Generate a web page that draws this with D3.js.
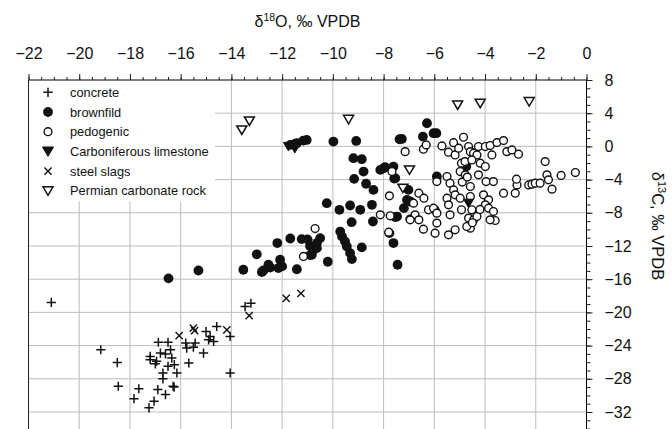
<!DOCTYPE html>
<html><head><meta charset="utf-8">
<script src="https://cdn.jsdelivr.net/npm/d3@7"></script>
<style>body{margin:0;background:#fff}svg{display:block}text{font-family:"Liberation Sans",Arial,sans-serif}</style>
</head><body><svg id="c" width="672" height="429"></svg>
<script>
const xTicks = [-22,-20,-18,-16,-14,-12,-10,-8,-6,-4,-2,0];
const yTicks = [8,4,0,-4,-8,-12,-16,-20,-24,-28,-32];
const seriesNames = ["concrete","brownfild","pedogenic","Carboniferous limestone","steel slags","Permian carbonate rock"];

const concrete = [[-21.1,-18.8],[-19.15,-24.5],[-18.5,-26.05],[-18.46,-28.9],[-17.65,-29.2],[-17.84,-30.4],[-17.25,-31.5],[-17.05,-30.7],[-16.9,-29.3],[-16.6,-29.9],[-16.26,-29.0],[-16.7,-28.0],[-16.7,-27.3],[-16.88,-23.6],[-16.5,-23.6],[-16.8,-24.9],[-17.2,-25.3],[-17.2,-25.7],[-16.95,-25.9],[-16.5,-26.5],[-16.35,-25.5],[-16.25,-26.3],[-16.15,-27.3],[-16.4,-24.5],[-15.8,-23.7],[-15.76,-24.3],[-15.43,-23.7],[-15.5,-24.2],[-15.1,-24.9],[-15.68,-26.1],[-14.84,-22.9],[-14.7,-23.5],[-14.58,-21.7],[-14.05,-22.9],[-14.05,-27.3],[-13.46,-19.3],[-13.23,-18.9],[-16.3,-28.9],[-17.0,-26.2],[-16.6,-25.0],[-15.0,-22.3],[-14.9,-23.3]];
const brownfild = [[-16.48,-15.9],[-15.3,-14.95],[-13.53,-14.86],[-13.0,-13.0],[-12.74,-14.95],[-12.47,-14.6],[-12.15,-14.66],[-12.08,-13.66],[-12.0,-14.46],[-12.19,-11.65],[-11.68,-11.1],[-11.42,-14.8],[-11.23,-11.17],[-11.0,-11.2],[-10.9,-13.1],[-10.77,-12.45],[-10.63,-11.65],[-10.63,-12.26],[-10.5,-11.05],[-10.24,-6.84],[-10.2,-13.9],[-11.68,0.18],[-11.5,0.3],[-11.42,0.38],[-11.16,0.7],[-11.03,0.78],[-9.98,0.58],[-9.08,0.66],[-9.19,-1.42],[-8.86,-1.54],[-8.79,-3.03],[-9.16,-3.91],[-8.69,-4.5],[-8.4,-5.24],[-8.13,-2.83],[-7.94,-2.5],[-7.58,-3.87],[-7.37,0.86],[-9.74,-7.64],[-9.32,-7.12],[-8.92,-7.64],[-8.46,-7.04],[-8.42,-9.05],[-9.26,-9.13],[-9.71,-10.26],[-9.64,-10.86],[-9.52,-11.45],[-9.45,-12.06],[-9.32,-12.86],[-9.25,-13.58],[-8.86,-12.17],[-7.61,-11.65],[-7.45,-14.26],[-7.47,-8.45],[-7.2,-7.44],[-6.95,-6.64],[-6.29,2.79],[-6.45,1.18],[-6.03,1.59],[-5.92,1.59],[-7.28,0.9],[-8.0,-2.63],[-7.61,-2.43],[-7.54,-3.83],[-5.9,-3.63],[-7.02,-5.24],[-7.08,-6.44],[-7.54,-8.52],[-7.77,-10.45],[-4.74,-2.43],[-10.83,-13.06],[-12.8,-15.14],[-12.54,-14.26],[-10.9,-12.0]];
const pedogenic = [[-10.7,-9.9],[-11.16,-13.26],[-8.13,-8.25],[-7.74,-8.36],[-7.8,-10.33],[-7.67,-3.03],[-7.77,-5.96],[-6.96,-8.76],[-6.76,-8.25],[-6.61,-8.85],[-6.43,-9.97],[-6.23,-7.64],[-5.97,-7.64],[-5.97,-10.45],[-5.9,-9.24],[-7.15,-0.63],[-6.43,-0.34],[-6.32,0.18],[-5.7,0.06],[-5.44,-0.7],[-5.24,0.45],[-5.18,-1.03],[-4.85,1.1],[-5.04,-0.22],[-4.65,-0.02],[-4.58,-0.63],[-4.45,-0.82],[-4.26,-0.02],[-4.32,-1.03],[-3.99,-0.02],[-3.8,0.1],[-3.73,-1.03],[-3.53,0.46],[-3.27,0.7],[-3.14,-0.63],[-2.94,-0.42],[-2.68,-0.94],[-4.93,-2.02],[-4.79,-1.83],[-4.98,-3.03],[-4.78,-3.43],[-4.52,-1.63],[-4.19,-2.02],[-3.99,-2.43],[-4.26,-3.43],[-3.96,-4.24],[-3.67,-4.24],[-5.5,-3.63],[-5.9,-4.24],[-5.38,-4.43],[-5.24,-5.24],[-5.18,-5.84],[-5.5,-6.24],[-5.44,-7.04],[-4.98,-6.24],[-4.93,-7.64],[-4.58,-4.84],[-4.58,-6.04],[-4.52,-7.64],[-4.65,-8.64],[-4.45,-8.85],[-4.58,-9.85],[-4.06,-5.84],[-3.86,-6.44],[-3.99,-7.04],[-3.86,-7.44],[-3.67,-7.85],[-3.6,-8.93],[-3.27,-5.64],[-2.81,-5.64],[-2.74,-4.64],[-2.76,-3.95],[-2.28,-4.64],[-2.15,-4.55],[-2.02,-4.43],[-1.83,-4.43],[-1.56,-3.43],[-1.5,-4.03],[-1.36,-5.15],[-1.63,-1.83],[-1.0,-3.5],[-0.44,-3.15],[-6.03,-7.44],[-5.9,-8.04],[-6.61,-5.64],[-6.41,-6.24],[-6.82,-6.84],[-6.95,-8.85],[-5.44,-10.66],[-5.18,-10.05],[-5.38,-8.25],[-4.72,-9.65],[-4.32,-8.45],[-3.8,-8.85],[-4.9,-4.3],[-4.7,-3.7],[-4.5,-9.2],[-4.2,-7.6]];
const carboniferous = [[-11.75,0.0],[-11.5,-0.25],[-4.65,-6.84]];
const steelSlags = [[-16.06,-22.8],[-15.5,-21.9],[-15.45,-22.2],[-14.18,-22.1],[-13.3,-20.4],[-11.84,-18.3],[-11.26,-17.7]];
const permian = [[-13.59,1.98],[-13.29,3.07],[-9.38,3.27],[-5.08,5.0],[-4.19,5.2],[-2.26,5.4],[-6.98,-2.83],[-7.24,-5.03]];

const svg = d3.select("#c");
const x = d3.scaleLinear().domain([-22,0]).range([28.5,586.5]);
const y = d3.scaleLinear().domain([8,-34.05]).range([80,429]);
const X0=x.range()[0], X1=x.range()[1], Y0=80, Y1=429;

// gridlines
const grid = svg.append("g").attr("stroke","#bdbdbd").attr("stroke-width",1);
xTicks.slice(1,-1).forEach(v=>grid.append("line").attr("x1",x(v)).attr("x2",x(v)).attr("y1",Y0).attr("y2",Y1));
yTicks.slice(1).forEach(v=>grid.append("line").attr("x1",X0).attr("x2",X1).attr("y1",y(v)).attr("y2",y(v)));

// legend background
svg.append("rect").attr("x",X0+0.5).attr("y",Y0+0.5).attr("width",186).attr("height",121).attr("fill","#fff");

// axes
const minorX = d3.range(-22,0.01,0.5);
const minorY = d3.range(-34,8.01,1);
const fmt = d=>d<0?"\u2212"+Math.abs(d):d;
svg.append("g").attr("transform",`translate(0,${Y0})`)
  .call(d3.axisTop(x).tickValues(minorX).tickSize(3).tickFormat(""))
  .call(g=>g.select(".domain").remove());
const gx = svg.append("g").attr("transform",`translate(0,${Y0})`)
  .call(d3.axisTop(x).tickValues(xTicks).tickSize(6).tickPadding(15).tickFormat(fmt));
gx.select(".domain").attr("d",`M${X0},0H${X1}`);
gx.selectAll("text").attr("font-size",16).attr("fill","#111").attr("font-family","Liberation Sans, Arial");
svg.append("g").attr("transform",`translate(${X1},0)`)
  .call(d3.axisRight(y).tickValues(minorY).tickSize(4).tickFormat(""))
  .call(g=>g.select(".domain").remove());
const gy = svg.append("g").attr("transform",`translate(${X1},0)`)
  .call(d3.axisRight(y).tickValues(yTicks).tickSize(6).tickPadding(12).tickFormat(fmt));
gy.select(".domain").attr("d",`M0,${Y0}V${Y1}`);
gy.selectAll("text").attr("font-size",16).attr("fill","#111").attr("font-family","Liberation Sans, Arial");
svg.selectAll(".tick line").attr("stroke","#222");
svg.append("line").attr("x1",X0).attr("x2",X0).attr("y1",Y0).attr("y2",Y1).attr("stroke","#222");

// titles
const t1 = svg.append("text").attr("x",(X0+X1)/2).attr("y",27).attr("text-anchor","middle").attr("font-size",16).attr("fill","#111");
t1.append("tspan").text("δ");
t1.append("tspan").attr("font-size",10.5).attr("dy",-6).text("18");
t1.append("tspan").attr("dy",6).text("O, ‰ VPDB");
const t2 = svg.append("text").attr("transform","translate(652,226) rotate(90)").attr("text-anchor","middle").attr("font-size",16.5).attr("fill","#111");
t2.append("tspan").text("δ");
t2.append("tspan").attr("font-size",11).attr("dy",-6).text("13");
t2.append("tspan").attr("dy",6).text("C, ‰ VPDB");

// symbols
function plus(g,cx,cy,s){g.append("path").attr("d",`M${cx-s},${cy}H${cx+s}M${cx},${cy-s}V${cy+s}`).attr("stroke","#111").attr("stroke-width",1.5).attr("fill","none");}
function cross(g,cx,cy,s){g.append("path").attr("d",`M${cx-s},${cy-s}L${cx+s},${cy+s}M${cx-s},${cy+s}L${cx+s},${cy-s}`).attr("stroke","#111").attr("stroke-width",1.4).attr("fill","none");}
function tri(g,cx,cy,s,filled){g.append("path").attr("d",`M${cx-s},${cy-s*0.8}L${cx+s},${cy-s*0.8}L${cx},${cy+s*0.9}Z`).attr("stroke","#111").attr("stroke-width",filled?1:1.5).attr("fill",filled?"#111":"#fff");}
function dot(g,cx,cy){g.append("circle").attr("cx",cx).attr("cy",cy).attr("r",4.9).attr("fill","#111");}
function ring(g,cx,cy){g.append("circle").attr("cx",cx).attr("cy",cy).attr("r",3.9).attr("fill","#fff").attr("stroke","#111").attr("stroke-width",1.4);}

const pts = svg.append("g");
concrete.forEach(d=>plus(pts,x(d[0]),y(d[1]),4.6));
steelSlags.forEach(d=>cross(pts,x(d[0]),y(d[1]),3.6));
brownfild.forEach(d=>dot(pts,x(d[0]),y(d[1])));
pedogenic.forEach(d=>ring(pts,x(d[0]),y(d[1])));
carboniferous.forEach(d=>tri(pts,x(d[0]),y(d[1]),5,true));
permian.forEach(d=>tri(pts,x(d[0]),y(d[1]),5,false));

// legend
const lg = svg.append("g");
const ly0 = 92.3, ldy = 19.7, lsx = 48, ltx = 70;
const drawers = [
  (cx,cy)=>plus(lg,cx,cy,4.6),
  (cx,cy)=>dot(lg,cx,cy),
  (cx,cy)=>ring(lg,cx,cy),
  (cx,cy)=>tri(lg,cx,cy,5.5,true),
  (cx,cy)=>cross(lg,cx,cy,3.6),
  (cx,cy)=>tri(lg,cx,cy,5,false)
];
seriesNames.forEach((n,i)=>{
  const cy = ly0 + i*ldy;
  drawers[i](lsx,cy);
  lg.append("text").attr("x",ltx).attr("y",cy+4.5).attr("font-size",12.8).attr("fill","#111").text(n);
});
</script></body></html>
